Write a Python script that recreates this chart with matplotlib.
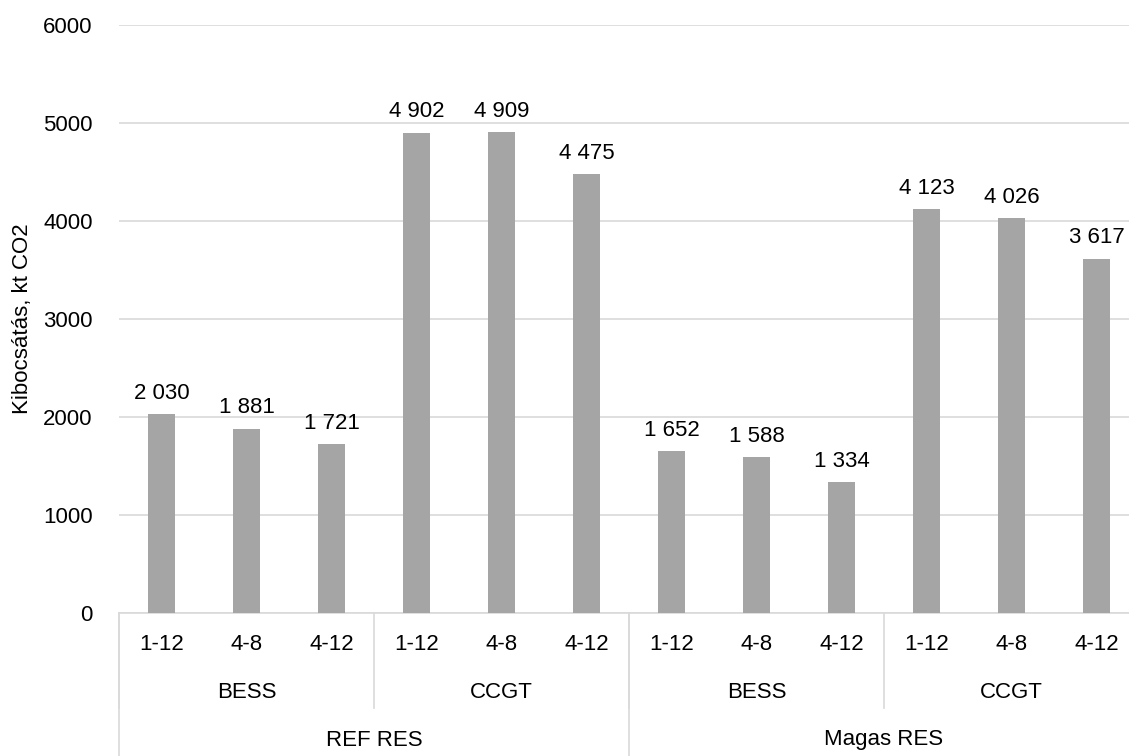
import matplotlib
matplotlib.use('agg')
import matplotlib.pyplot as plt

# emission values, kt CO2
scenarios = ['REF RES', 'Magas RES']
technologies = ['BESS', 'CCGT']
periods = ['1-12', '4-8', '4-12']
values = [2030, 1881, 1721, 4902, 4909, 4475,
          1652, 1588, 1334, 4123, 4026, 3617]

plt.rcParams['font.family'] = ['Liberation Sans', 'DejaVu Sans']
FS = 16

fig = plt.figure(figsize=(11.29, 7.56), dpi=100)
W, H = 1129, 756
left, right, top, bottom = 119, 1139, 25, 613
ax = fig.add_axes([left / W, 1 - bottom / H, (right - left) / W, (bottom - top) / H])

x = list(range(len(values)))
bars = ax.bar(x, values, width=0.32, color='#A5A5A5', zorder=3)
for xi, v in zip(x, values):
    label = f'{v:,}'.replace(',', ' ')
    ax.annotate(label, (xi, v), xytext=(0, 11), textcoords='offset points',
                ha='center', va='baseline', fontsize=FS, color='#000000')

ax.set_xlim(-0.5, len(values) - 0.5)
ax.set_ylim(0, 6000)
ax.set_yticks(range(0, 6001, 1000))
ax.tick_params(axis='y', length=0, labelsize=FS, pad=19)
ax.set_xticks([])
ax.grid(axis='y', color='#D9D9D9', linewidth=1.2, zorder=0)
for s in ['top', 'right', 'left']:
    ax.spines[s].set_visible(False)
ax.spines['bottom'].set_color('#D9D9D9')
ax.spines['bottom'].set_linewidth(1.2)
fig.text(23 / W, 1 - (top + bottom) / 2 / H, 'Kibocsátás, kt CO2', rotation=90,
         ha='center', va='center', fontsize=FS)

# hierarchical category axis drawn in figure pixel coords
def px(xd):
    return ax.transData.transform((xd, 0))[0]

fig.canvas.draw()
line_kw = dict(color='#D9D9D9', linewidth=1.2, transform=None)

def vline(xp, y0, y1):
    fig.add_artist(plt.Line2D([xp, xp], [H - y0, H - y1], **line_kw))

n_p = len(periods)
n_t = len(technologies)
for i in range(len(values)):
    fig.text(px(i) / W, 1 - 645 / H, periods[i % n_p], ha='center', va='center', fontsize=FS)

for g in range(len(scenarios) * n_t):
    c = g * n_p + (n_p - 1) / 2
    fig.text(px(c) / W, 1 - 692 / H, technologies[g % n_t], ha='center', va='center', fontsize=FS)
    vline(px(g * n_p - 0.5), bottom, 708)

for s, name in enumerate(scenarios):
    c = s * n_p * n_t + (n_p * n_t - 1) / 2
    fig.text(px(c) / W, 1 - 740 / H, name, ha='center', va='center', fontsize=FS)
    vline(px(s * n_p * n_t - 0.5), bottom, H)

fig.savefig('out.png', dpi=100)
